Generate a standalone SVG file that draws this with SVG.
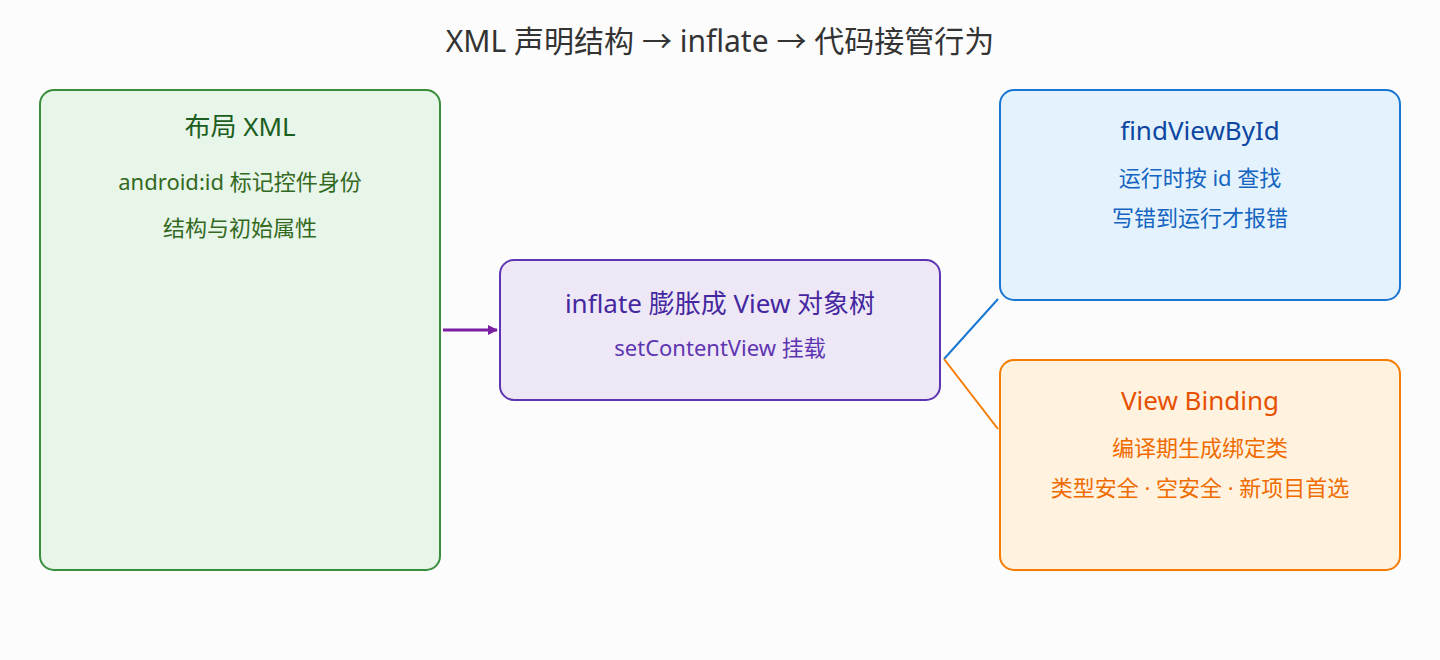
<svg xmlns="http://www.w3.org/2000/svg" width="1440" height="660" viewBox="0 0 1440 660">
<style>
text{font-family:"Noto Sans","Noto Sans CJK SC",sans-serif;text-anchor:middle}
.t{font-size:26px}.s{font-size:22px}
</style>
<defs><marker id="ah" markerWidth="10" markerHeight="10" refX="9" refY="5" orient="auto" markerUnits="userSpaceOnUse" viewBox="0 0 10 10"><path d="M0,0L10,5L0,10z" fill="#7b1fa2"/></marker></defs>
<rect width="1440" height="660" fill="#fcfcfc"/>
<text x="720" y="52" font-size="30" fill="#333">XML 声明结构 → inflate → 代码接管行为</text>
<g id="connectors">
<line x1="443" y1="330" x2="497" y2="330" stroke="#7b1fa2" stroke-width="3" marker-end="url(#ah)"/>
<line x1="944" y1="359" x2="998" y2="299" stroke="#1976d2" stroke-width="2"/>
<line x1="944" y1="359" x2="998" y2="429" stroke="#f57c00" stroke-width="2"/>
</g>
<g id="layout">
<rect x="40" y="90" width="400" height="480" rx="14" fill="#e8f5e9" stroke="#388e3c" stroke-width="2"/>
<text x="240" y="136" class="t" fill="#1b5e20">布局 XML</text>
<text x="240" y="190" class="s" fill="#33691e">android:id 标记控件身份</text>
<text x="240" y="236" class="s" fill="#33691e">结构与初始属性</text>
</g>
<g id="inflate">
<rect x="500" y="260" width="440" height="140" rx="14" fill="#ede7f6" stroke="#5e35b1" stroke-width="2"/>
<text x="720" y="313" class="t" fill="#4527a0">inflate 膨胀成 View 对象树</text>
<text x="720" y="356" class="s" fill="#5e35b1">setContentView 挂载</text>
</g>
<g id="find">
<rect x="1000" y="90" width="400" height="210" rx="14" fill="#e3f2fd" stroke="#1976d2" stroke-width="2"/>
<text x="1200" y="140" class="t" fill="#0d47a1">findViewById</text>
<text x="1200" y="186" class="s" fill="#1565c0">运行时按 id 查找</text>
<text x="1200" y="226" class="s" fill="#1565c0">写错到运行才报错</text>
</g>
<g id="binding">
<rect x="1000" y="360" width="400" height="210" rx="14" fill="#fff3e0" stroke="#f57c00" stroke-width="2"/>
<text x="1200" y="410" class="t" fill="#e65100">View Binding</text>
<text x="1200" y="456" class="s" fill="#ef6c00">编译期生成绑定类</text>
<text x="1200" y="496" class="s" fill="#ef6c00">类型安全 · 空安全 · 新项目首选</text>
</g>
</svg>
